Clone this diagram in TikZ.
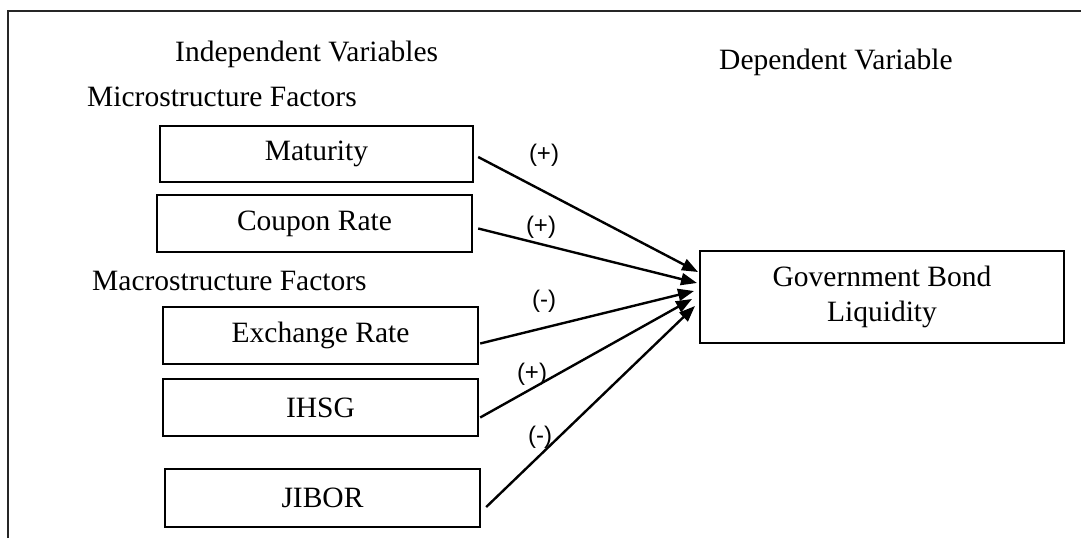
\documentclass[tikz,border=0pt]{standalone}
\usepackage{fontspec}
\setmainfont{Liberation Serif}
\newfontfamily\labelfont{Liberation Sans}
\usetikzlibrary{arrows.meta,calc}
\begin{document}
\begin{tikzpicture}[x=1pt,y=-1pt,
  box/.style={draw,line width=2.4pt,inner sep=0pt,font=\fontsize{29.5}{35}\selectfont},
  heading/.style={inner sep=0pt,font=\fontsize{29.5}{35}\selectfont},
  sign/.style={inner sep=0pt,font=\labelfont\fontsize{24}{28}\selectfont},
  link/.style={line width=2.4pt,-{Triangle[length=16pt,width=12pt]}}]
\useasboundingbox (0,0) rectangle (1081,538);
\fill[white] (0,0) rectangle (1081,538);
\draw[line width=1.3pt,black!85] (8,538) -- (8,11) -- (1081,11);
% headings
\node[heading,anchor=base west] (indep) at (175,61) {Independent Variables};
\node[heading,anchor=base west] (dep) at (719,69) {Dependent Variable};
\node[heading,anchor=base west] (micro) at (87,106) {Microstructure Factors};
\node[heading,anchor=base west] (macro) at (92,290) {Macrostructure Factors};
% boxes
\node[box,minimum width=313pt,minimum height=56pt] (mat) at (316.5,154) {Maturity};
\node[box,minimum width=315pt,minimum height=57pt] (coup) at (314.5,223.5) {Coupon Rate};
\node[box,minimum width=315pt,minimum height=57pt] (exch) at (320.5,335.5) {Exchange Rate};
\node[box,minimum width=315pt,minimum height=57pt] (ihsg) at (320.5,407.5) {IHSG};
\node[box,minimum width=315pt,minimum height=58pt] (jibor) at (322.5,498) {JIBOR};
\node[box,minimum width=364pt,minimum height=92pt,align=center] (gov) at (882,297) {Government Bond\\Liquidity};
% arrow tips
\coordinate (t1) at (698,272);
\coordinate (t2) at (697,283);
\coordinate (t3) at (694,291);
\coordinate (t4) at (692,299);
\coordinate (t5) at (695,306);
% signs
\node[sign] (s1) at (544,155) {(+)};
\node[sign] (s2) at (541,227) {(+)};
\node[sign] (s3) at (544,301) {(-)};
\node[sign] (s4) at (532,374) {(+)};
\node[sign] (s5) at (540,437) {(-)};
% connectors
\draw[link] ($(mat.east)+(4,3)$) -- (t1);
\draw[link] ($(coup.east)+(5,5)$) -- (t2);
\draw[link] ($(exch.east)+(1,8)$) -- (t3);
\draw[link] ($(ihsg.east)+(1,10)$) -- (t4);
\draw[link] ($(jibor.east)+(5,9)$) -- (t5);
\end{tikzpicture}
\end{document}
